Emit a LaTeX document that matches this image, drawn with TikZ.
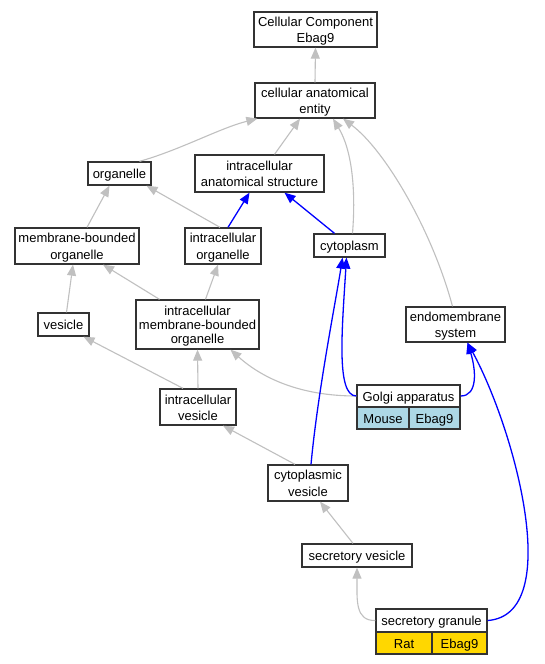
\documentclass[tikz,border=0pt]{standalone}
\usepackage{fontspec}
\setmainfont{Liberation Sans}
\usetikzlibrary{arrows.meta}
\definecolor{edgegray}{HTML}{C0C0C0}
\definecolor{edgeblue}{HTML}{0000FF}
\definecolor{lblue}{HTML}{ADD8E6}
\definecolor{gold}{HTML}{FFD700}
\newcommand\gs{\rule[-2.5pt]{0pt}{15.3pt}}
\tikzset{
  box/.style={draw=black!80, line width=1.3pt, fill=white, align=center, inner sep=0pt,
    font=\fontsize{13}{14}\selectfont},
  gedge/.style={draw=edgegray, line width=1.1pt, -{Triangle[length=11pt,width=9pt]}},
  bedge/.style={draw=edgeblue, line width=1.3pt, -{Triangle[length=11pt,width=9pt]}},
}
\begin{document}
\begin{tikzpicture}[x=1pt,y=-1pt]
\useasboundingbox[fill=white] (0,0) rectangle (545,664);
% nodes
\node[box, minimum width=123pt, minimum height=35pt] (cc) at (315.5,29.5) {\gs Cellular Component\\Ebag9\gs};
\node[box, minimum width=120pt, minimum height=35pt] (cae) at (315,100.5) {\gs cellular anatomical\\entity\gs};
\node[box, minimum width=63pt, minimum height=23pt] (org) at (119.5,173.5) {\gs organelle\gs};
\node[box, minimum width=129pt, minimum height=37pt] (ias) at (259.5,173.5) {\gs intracellular\\anatomical structure\gs};
\node[box, minimum width=124pt, minimum height=36pt] (mbo) at (77,246) {\gs membrane-bounded\\organelle\gs};
\node[box, minimum width=76pt, minimum height=36pt] (io) at (223,246) {\gs intracellular\\organelle\gs};
\node[box, minimum width=71pt, minimum height=23pt] (cyto) at (349.5,245.5) {\gs cytoplasm\gs};
\node[box, minimum width=51pt, minimum height=23pt] (ves) at (63.5,324.5) {\gs vesicle\gs};
\node[box, minimum width=123pt, minimum height=49pt] (imbo) at (197.5,324.5) {\gs intracellular\\membrane-bounded\\organelle\gs};
\node[box, minimum width=99pt, minimum height=35pt] (endo) at (455.5,324.5) {\gs endomembrane\\system\gs};
\node[box, minimum width=103pt, minimum height=22pt] (golgi) at (408.5,396) {\gs Golgi apparatus\gs};
\node[box, fill=lblue, minimum width=52pt, minimum height=22pt] (golgiA) at (383,418) {\gs Mouse\gs};
\node[box, fill=lblue, minimum width=51pt, minimum height=22pt] (golgiB) at (434.5,418) {\gs Ebag9\gs};
\node[box, minimum width=76pt, minimum height=36pt] (iv) at (198,407) {\gs intracellular\\vesicle\gs};
\node[box, minimum width=80pt, minimum height=36pt] (cv) at (308,483) {\gs cytoplasmic\\vesicle\gs};
\node[box, minimum width=110pt, minimum height=23pt] (sv) at (357,555.5) {\gs secretory vesicle\gs};
\node[box, minimum width=111pt, minimum height=23pt] (sg) at (431.5,620.5) {\gs secretory granule\gs};
\node[box, fill=gold, minimum width=56pt, minimum height=22pt] (sgA) at (404,643) {\gs Rat\gs};
\node[box, fill=gold, minimum width=55pt, minimum height=22pt] (sgB) at (459.5,643) {\gs Ebag9\gs};
% gray edges
\draw[gedge] (cae.north) -- (cc.south);
\draw[gedge] ([xshift=20pt]org.north) .. controls (180,150) and (220,128) .. ([xshift=3pt]cae.south west);
\draw[gedge] ([xshift=15pt]ias.north) -- ([xshift=-15pt]cae.south);
\draw[gedge] ([xshift=3pt]cyto.north) .. controls (356,190) and (352,150) .. ([xshift=18pt]cae.south);
\draw[gedge] ([xshift=-3pt]endo.north) .. controls (432,230) and (385,150) .. ([xshift=28pt]cae.south);
\draw[gedge] ([xshift=10pt]mbo.north) -- ([xshift=-10pt]org.south);
\draw[gedge] ([xshift=-3pt]io.north) -- ([xshift=27pt]org.south);
\draw[gedge] ([xshift=3pt]ves.north) -- ([xshift=-4pt]mbo.south);
\draw[gedge] ([xshift=-38pt]imbo.north) -- ([xshift=26pt]mbo.south);
\draw[gedge] ([xshift=8pt]imbo.north) -- ([xshift=-5pt]io.south);
\draw[gedge] ([xshift=-15pt]iv.north) -- ([xshift=20pt]ves.south);
\draw[gedge] (iv.north) -- (imbo.south);
\draw[gedge] (golgi.west) .. controls (300,396) and (262,378) .. ([xshift=33pt]imbo.south);
\draw[gedge] ([xshift=-13pt]cv.north) -- ([xshift=25pt]iv.south);
\draw[gedge] ([xshift=-4pt]sv.north) -- ([xshift=12pt]cv.south);
\draw[gedge] (sg.west) .. controls (355,621) and (357,600) .. (sv.south);
% blue edges
\draw[bedge] ([xshift=5pt]io.north) -- ([xshift=-10pt]ias.south);
\draw[bedge] ([xshift=-15pt]cyto.north) -- ([xshift=25pt]ias.south);
\draw[bedge] (golgi.west) .. controls (336,396) and (342,330) .. ([xshift=-3pt]cyto.south);
\draw[bedge] ([xshift=3pt]cv.north) .. controls (318,390) and (336,300) .. ([xshift=-7pt]cyto.south);
\draw[bedge] (golgi.east) .. controls (478,396) and (476,370) .. ([xshift=12pt]endo.south);
\draw[bedge] (sg.east) .. controls (565,615) and (515,430) .. ([xshift=12pt]endo.south);
\end{tikzpicture}
\end{document}
